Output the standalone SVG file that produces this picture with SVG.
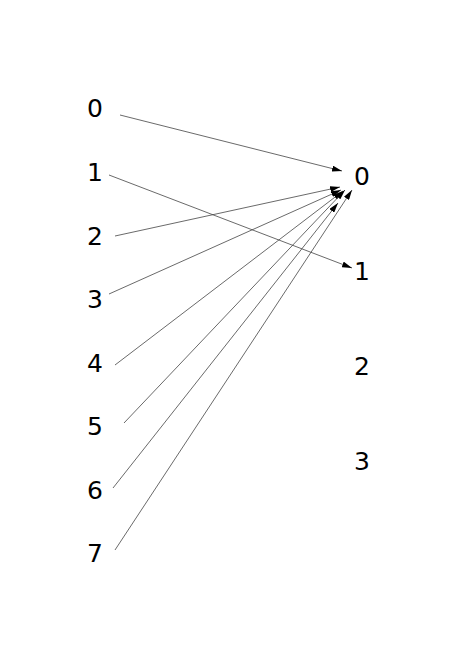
<svg xmlns="http://www.w3.org/2000/svg" width="474" height="669" viewBox="0 0 474 669">
<style>
text{font-family:"DejaVu Sans",sans-serif;font-size:25px;fill:#000}
.e{stroke:#444;stroke-width:0.8;fill:none;marker-end:url(#a)}
</style>
<defs>
<marker id="a" markerWidth="10" markerHeight="6" refX="10" refY="3" orient="auto" markerUnits="userSpaceOnUse">
<path d="M0,0 L10,3 L0,6 Z" fill="#000"/>
</marker>
</defs>
<rect width="474" height="669" fill="#fff"/>
<g id="connectors">
<line class="e" x1="120" y1="115" x2="342" y2="171"/>
<line class="e" x1="109" y1="175" x2="352" y2="268"/>
<line class="e" x1="115" y1="236" x2="340" y2="187"/>
<line class="e" x1="109" y1="294" x2="341" y2="190"/>
<line class="e" x1="115" y1="365" x2="343" y2="191"/>
<line class="e" x1="124" y1="423" x2="345" y2="190"/>
<line class="e" x1="113" y1="488" x2="338" y2="203"/>
<line class="e" x1="115" y1="550" x2="352" y2="190"/>
</g>
<g id="L0"><text x="87" y="117">0</text></g>
<g id="L1"><text x="87" y="181">1</text></g>
<g id="L2"><text x="87" y="245">2</text></g>
<g id="L3"><text x="87" y="308">3</text></g>
<g id="L4"><text x="87" y="372">4</text></g>
<g id="L5"><text x="87" y="435">5</text></g>
<g id="L6"><text x="87" y="499">6</text></g>
<g id="L7"><text x="87" y="562">7</text></g>
<g id="R0"><text x="354" y="185">0</text></g>
<g id="R1"><text x="354" y="280">1</text></g>
<g id="R2"><text x="354" y="375">2</text></g>
<g id="R3"><text x="354" y="470">3</text></g>
</svg>
